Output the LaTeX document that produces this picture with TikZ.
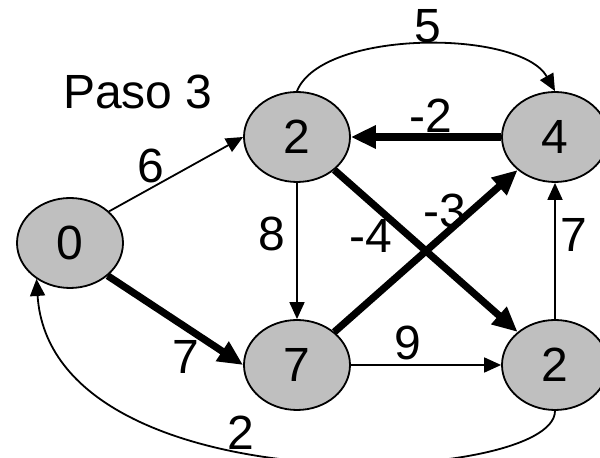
\documentclass[tikz,border=0pt]{standalone}
\usepackage{fontspec}
\setmainfont{Liberation Sans}
\usetikzlibrary{arrows.meta,shapes.geometric}

\begin{document}
\begin{tikzpicture}[
    x=0.5pt, y=-0.5pt,
    font=\fontsize{24}{28}\selectfont,
    vert/.style={draw=black, line width=0.9pt, fill=black!25, ellipse,
                 minimum width=53pt, minimum height=45pt, inner sep=0pt},
    lbl/.style={inner sep=0pt},
    edge/.style={-{Triangle[length=8.5pt,width=7.5pt]}, line width=0.9pt},
    hot/.style={-{Triangle[length=12.5pt,width=11pt]}, line width=3.6pt},
]
\useasboundingbox (0,0) rectangle (600,458);
\clip (0,0) rectangle (600,458);

% ---- Vertices ------------------------------------------------------
\node[vert] (s) at (70,243)  {0};
\node[vert] (t) at (297,137) {2};
\node[vert] (x) at (555,137) {4};
\node[vert] (y) at (297,365) {7};
\node[vert] (z) at (555,365) {2};

% ---- Title and weights ----------------------------------------------
\node[lbl] (paso) at (138,92) {Paso 3};
\node[lbl] (wst) at (151,166) {6};
\node[lbl] (wsy) at (186,357) {7};
\node[lbl] (wtx) at (428,26)  {5};
\node[lbl] (wxt) at (431,116) {-2};
\node[lbl] (wty) at (272,234) {8};
\node[lbl] (wtz) at (371,236) {-4};
\node[lbl] (wyx) at (445,211) {-3};
\node[lbl] (wyz) at (408,343) {9};
\node[lbl] (wzx) at (574,235) {7};
\node[lbl] (wzs) at (241,433) {2};

% ---- Edges -----------------------------------------------------------
\draw[edge] (s.39) -- (t.west);
\draw[hot]  (s.-41) -- (y.west);
\draw[edge] (t.north) .. controls +(25,-62) and +(-35,-62) .. (x.north);
\draw[edge] (t) -- (y);
\draw[hot]  (t) -- (z);
\draw[hot]  (x) -- (t);
\draw[hot]  (y) -- (x);
\draw[edge] (y) -- (z);
\draw[edge] (z) -- (x);
\draw[edge] (z.south) .. controls +(0,75) and +(15,230) .. (s.-133);

\end{tikzpicture}
\end{document}
